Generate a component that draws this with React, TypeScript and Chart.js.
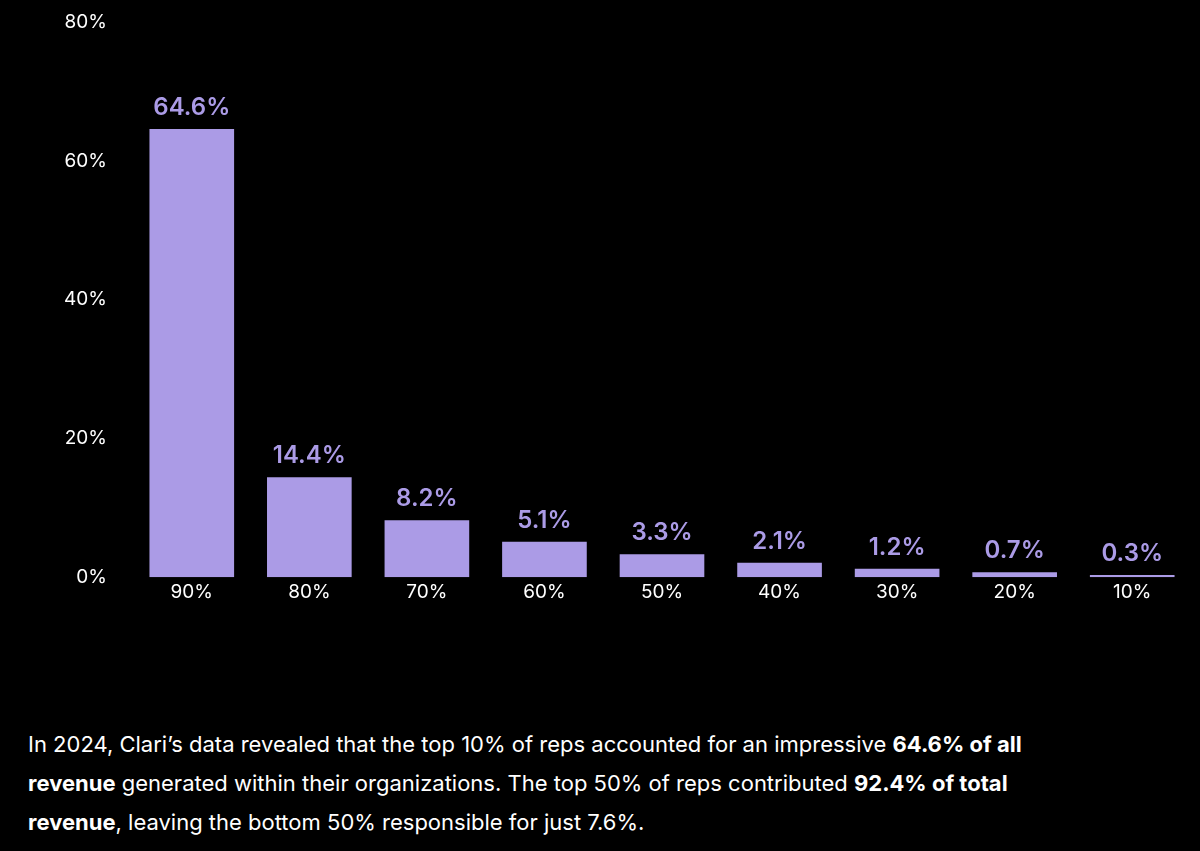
import React, { useEffect, useRef } from "react";
import { Chart, registerables } from "chart.js";

Chart.register(...registerables);

const categories = ["90%", "80%", "70%", "60%", "50%", "40%", "30%", "20%", "10%"];
const revenueShare = [64.6, 14.4, 8.2, 5.1, 3.3, 2.1, 1.2, 0.7, 0.3];
const yTicks = [0, 20, 40, 60, 80];

const BAR = "#ab9be6";
const FONT = "Inter, 'DejaVu Sans', sans-serif";

const valueLabels = {
  id: "valueLabels",
  afterDatasetsDraw(chart: any) {
    const ctx = chart.ctx;
    const meta = chart.getDatasetMeta(0);
    ctx.save();
    ctx.fillStyle = BAR;
    ctx.font = `600 24px ${FONT}`;
    ctx.textAlign = "center";
    ctx.textBaseline = "alphabetic";
    meta.data.forEach((bar: any, i: number) => {
      const v = chart.data.datasets[0].data[i];
      ctx.fillText(`${v}%`, bar.x, bar.y - 14);
    });
    ctx.restore();
  },
};

export default function App() {
  const ref = useRef<HTMLCanvasElement | null>(null);

  useEffect(() => {
    document.body.style.margin = "0";
    document.body.style.background = "#000";
    if (!ref.current) return;
    const chart = new Chart(ref.current, {
      type: "bar",
      data: {
        labels: categories,
        datasets: [
          {
            data: revenueShare,
            backgroundColor: BAR,
            borderWidth: 0,
            barPercentage: 0.72,
            categoryPercentage: 1,
          },
        ],
      },
      options: {
        animation: false,
        responsive: false,
        maintainAspectRatio: false,
        layout: { padding: { top: 22, right: 9, left: 0, bottom: 0 } },
        plugins: {
          legend: { display: false },
          tooltip: { enabled: false },
        },
        scales: {
          x: {
            grid: { display: false, drawTicks: false },
            border: { display: false },
            ticks: {
              color: "#ffffff",
              font: { family: FONT, size: 19 },
              padding: 4,
            },
          },
          y: {
            min: 0,
            max: 80,
            afterFit: (scale: any) => {
              scale.width = 133;
              scale.paddingTop = 0;
              scale.paddingBottom = 0;
            },
            afterBuildTicks: (scale: any) => {
              scale.ticks = yTicks.map((v) => ({ value: v }));
            },
            grid: { display: false, drawTicks: false },
            border: { display: false },
            ticks: {
              color: "#ffffff",
              font: { family: FONT, size: 19 },
              padding: 26,
              callback: (v: any) => `${v}%`,
            },
          },
        },
      },
      plugins: [valueLabels],
    });
    return () => chart.destroy();
  }, []);

  return (
    <div style={{ background: "#000", width: 1200, height: 851, overflow: "hidden" }}>
      <canvas ref={ref} width={1200} height={608} style={{ display: "block" }} />
      <p
        style={{
          margin: "117px 0 0 28px",
          color: "#fff",
          fontFamily: FONT,
          fontSize: 22,
          lineHeight: "39px",
          letterSpacing: "0px",
        }}
      >
        In 2024, Clari’s data revealed that the top 10% of reps accounted for an impressive <b>64.6% of all</b>
        <br />
        <b>revenue</b> generated within their organizations. The top 50% of reps contributed <b>92.4% of total</b>
        <br />
        <b>revenue</b>, leaving the bottom 50% responsible for just 7.6%.
      </p>
    </div>
  );
}
